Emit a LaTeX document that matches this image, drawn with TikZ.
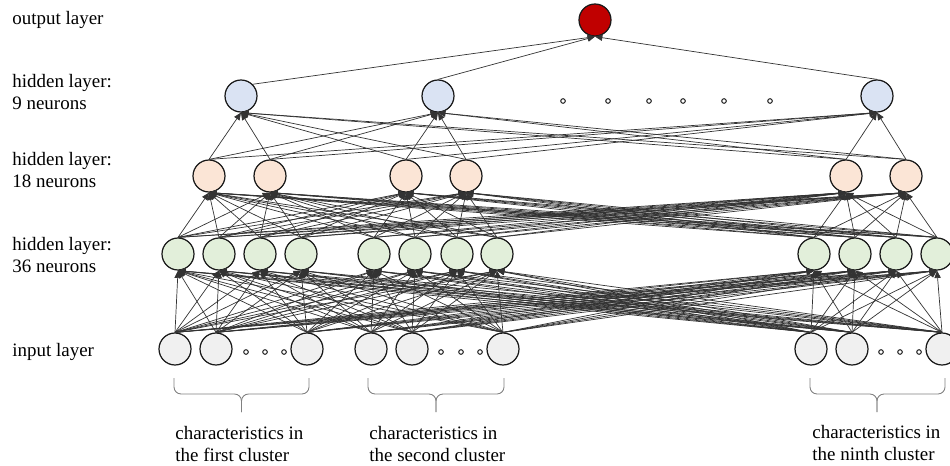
\documentclass[tikz,border=0pt]{standalone}
\usepackage{fontspec}
\setmainfont{Liberation Serif}
\usepackage{tikz}
\usetikzlibrary{arrows.meta}

\definecolor{inpgray}{HTML}{F0F0F0}
\definecolor{hidgreen}{HTML}{E2EFDA}
\definecolor{hidorange}{HTML}{FBE5D6}
\definecolor{hidblue}{HTML}{DAE3F3}
\definecolor{outred}{HTML}{C00000}

\begin{document}
\begin{tikzpicture}[
    x=0.02cm, y=-0.02cm,
    neuron/.style={circle, draw=black!90, line width=0.7pt, minimum size=0.64cm, inner sep=0pt},
    link/.style={-{Triangle[length=4.2pt, width=3.6pt]}, draw=black!80, line width=0.4pt},
    layertext/.style={anchor=west, align=left, inner sep=0pt, font=\fontsize{10.8}{13}\selectfont},
    skipdot/.style={draw=black!85, line width=0.6pt, fill=white},
    brc/.style={draw=gray, line width=0.5pt, rounded corners=4pt},
]
  \useasboundingbox (0,0) rectangle (950,466);
  \clip (0,0) rectangle (950,466);

  % neurons
  \node[neuron, fill=outred] (out) at (595,20) {};
  \foreach \xx [count=\k] in {241,438,877}
    \node[neuron, fill=hidblue] (b\k) at (\xx,96) {};
  \foreach \xx [count=\k] in {209,270,406,466,846,906}
    \node[neuron, fill=hidorange] (o\k) at (\xx,176) {};
  \foreach \xx [count=\k] in {178,219,260,301,374,415,457,497,814,855,896,937}
    \node[neuron, fill=hidgreen] (g\k) at (\xx,254) {};
  \foreach \xx [count=\k] in {175,216,307,371,412,503,811,852,942}
    \node[neuron, fill=inpgray] (i\k) at (\xx,349) {};

  % skipped neurons
  \foreach \xx in {563,608,649,683,724,770}
    \draw[skipdot] (\xx,101) circle (1.3pt);
  \foreach \xx in {246,265,284,441,461,480,881,900,919}
    \draw[skipdot] (\xx,352) circle (1.3pt);

  % connections
  \foreach \a in {1,...,9}
    \foreach \b in {1,...,12}
      \draw[link] (i\a.north) -- (g\b.south);
  \foreach \a in {1,...,12}
    \foreach \b in {1,...,6}
      \draw[link] (g\a.north) -- (o\b.south);
  \foreach \a in {1,...,6}
    \foreach \b in {1,2,3}
      \draw[link] (o\a.north) -- (b\b.south);
  \draw[link] (b1.north east) -- (out.south);
  \draw[link] (b2.north) -- (out.south);
  \draw[link] (b3.north) -- (out.south);

  % braces under the clusters
  \foreach \l/\r/\c in {174/309/241.5, 368/504/436, 810/945/877} {
    \draw[brc] (\l,378) |- (\c,394) -- (\c,412);
    \draw[brc] (\r,378) |- (\c,394) -- (\c,412);
  }

  % texts
  \node[layertext] (tout) at (12,20) {output layer};
  \node[layertext] (tblue) at (12,92) {hidden layer:\\9 neurons};
  \node[layertext] (torange) at (12,170) {hidden layer:\\18 neurons};
  \node[layertext] (tgreen) at (12,255) {hidden layer:\\36 neurons};
  \node[layertext] (tin) at (12,352) {input layer};
  \node[layertext] (cl1) at (175,444) {characteristics in\\the first cluster};
  \node[layertext] (cl2) at (369,444) {characteristics in\\the second cluster};
  \node[layertext] (cl9) at (812,443) {characteristics in\\the ninth cluster};
\end{tikzpicture}
\end{document}
